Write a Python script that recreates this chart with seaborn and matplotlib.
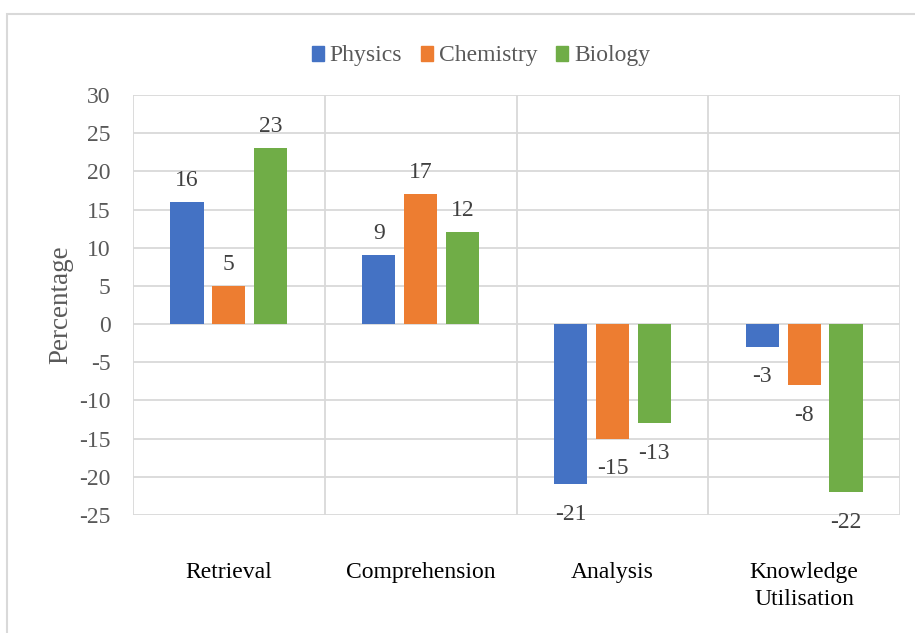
import seaborn as sns
import matplotlib.pyplot as plt
import pandas as pd
from matplotlib.patches import Rectangle

categories = ["Retrieval", "Comprehension", "Analysis", "Knowledge\nUtilisation"]
subjects = ["Physics", "Chemistry", "Biology"]
physics = [16, 9, -21, -3]
chemistry = [5, 17, -15, -8]
biology = [23, 12, -13, -22]
colors = ["#4472C4", "#ED7D31", "#70AD47"]
y_ticks = list(range(-25, 31, 5))

sns.set_theme(style="white")
plt.rcParams["font.family"] = ["Liberation Serif", "DejaVu Serif"]
plt.rcParams["axes.unicode_minus"] = False

df = pd.DataFrame({
    "category": categories * 3,
    "subject": [s for s in subjects for _ in categories],
    "value": physics + chemistry + biology,
})

fig = plt.figure(figsize=(9.15, 6.33), dpi=100)
ax = fig.add_axes([133 / 915, 1 - 515 / 633, 767 / 915, 420 / 633])

sns.barplot(data=df, x="category", y="value", hue="subject",
            order=categories, hue_order=subjects, palette=colors,
            saturation=1, width=0.656, gap=0.21, errorbar=None,
            linewidth=0, legend=False, ax=ax)

# labels above positive bars, further below negative bars (Excel style)
for cont in ax.containers:
    vals = cont.datavalues
    ax.bar_label(cont, labels=[f"{v:g}" if v >= 0 else "" for v in vals],
                 padding=8, fontsize=17, color="#404040")
    ax.bar_label(cont, labels=[f"{v:g}" if v < 0 else "" for v in vals],
                 padding=14, fontsize=17, color="#404040")

# grid: horizontal at ticks, vertical between categories
ax.set_ylim(-25, 30)
ax.set_yticks(y_ticks)
ax.set_xlim(-0.5, len(categories) - 0.5)
ax.set_xticks([i - 0.5 for i in range(len(categories) + 1)], minor=True)
ax.yaxis.grid(True, color="#d9d9d9", linewidth=1.3)
ax.xaxis.grid(True, which="minor", color="#d9d9d9", linewidth=1.3)
ax.set_axisbelow(True)
for sp in ax.spines.values():
    sp.set_visible(False)

ax.tick_params(axis="y", length=0, pad=16, labelsize=17, labelcolor="#595959")
ax.tick_params(axis="x", which="both", length=0, pad=34, labelsize=17,
               labelcolor="#000000")
for lbl in ax.get_xticklabels():
    lbl.set_verticalalignment("top")
    lbl.set_linespacing(1.35)

ax.set_xlabel("")
ax.set_ylabel("Percentage", fontsize=19.5, color="#595959")
ax.yaxis.set_label_coords(-0.078, 0.5)

handles = [Rectangle((0, 0), 1, 1, color=c) for c in colors]
fig.legend(handles, subjects, loc="center", bbox_to_anchor=(481 / 915, 1 - 56 / 633),
           ncol=3, frameon=False, fontsize=17, handlelength=0.5, handleheight=0.6,
           handletextpad=0.25, columnspacing=0.8, labelcolor="#595959")

# outer chart border
fig.patches.append(Rectangle((6.5 / 915, -0.05), 1.1, 1 - 13.5 / 633 + 0.05,
                             transform=fig.transFigure, fill=False,
                             edgecolor="#d9d9d9", linewidth=1.5))

fig.savefig("out.png", dpi=100)
